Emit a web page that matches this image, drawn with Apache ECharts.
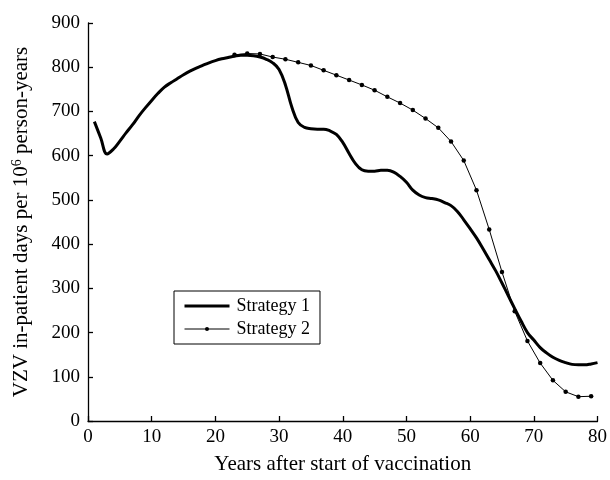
<!DOCTYPE html>
<html>
<head>
<meta charset="utf-8">
<script src="https://cdn.jsdelivr.net/npm/echarts@6/dist/echarts.min.js"></script>
<style>html,body{margin:0;padding:0;background:#fff;}#c{width:610px;height:480px;}</style>
</head>
<body>
<div id="c"></div>
<script>
const s1Years = [1,2,3,4,5,6,7,8,9,10,11,12,13,14,15,16,17,18,19,20,21,22,23,24,25,26,27,28,29,30,31,32,33,34,35,36,37,38,39,40,41,42,43,44,45,46,47,48,49,50,51,52,53,54,55,56,57,58,59,60,61,62,63,64,65,66,67,68,69,70,71,72,73,74,75,76,77,78,79,80];
const s1Values = [677,640,604,615,633,652,670,690,708,725,741,755,765,774,783,791,798,804,810,815,819,822,825,827,827,826,823,818,810,795,760,710,675,664,661,660,660,656,648,630,605,582,568,565,565,567,567,563,553,540,522,511,505,503,500,494,487,474,455,435,414,390,365,340,312,283,254,226,200,183,166,154,144,137,132,128,127,127,129,132];
const s2Years = [23,25,27,29,31,33,35,37,39,41,43,45,47,49,51,53,55,57,59,61,63,65,67,69,71,73,75,77,79];
const s2Values = [828,831,830,823,818,811,804,793,782,771,760,748,733,719,703,684,663,632,589,522,433,337,248,181,131,92,66,55,56];
const seriesNames = ['Strategy 1','Strategy 2'];
const xTitle = 'Years after start of vaccination';
const yTitle = 'VZV in-patient days per 10{sup|6} person-years';

const FONT = '"Liberation Serif", "Times New Roman", serif';
const chart = echarts.init(document.getElementById('c'), null, {renderer:'canvas'});
const zip = (a,b) => a.map((v,i)=>[v,b[i]]);
chart.setOption({
  animation:false,
  backgroundColor:'#fff',
  grid:{left:88,right:11,top:23,bottom:55,containLabel:false},
  legend:{
    left:174, top:291, orient:'vertical',
    data:[
      {name:seriesNames[0], itemStyle:{color:'rgba(0,0,0,0)',borderWidth:0}, lineStyle:{color:'#000',width:3}},
      {name:seriesNames[1], itemStyle:{color:'#000',borderWidth:0}, lineStyle:{color:'#000',width:1}}
    ],
    borderColor:'#000', borderWidth:1, borderRadius:0,
    padding:[6,10,6,9],
    itemWidth:45, itemHeight:5, itemGap:5,
    textStyle:{fontFamily:FONT,fontSize:18,color:'#000',padding:[0,0,0,2]}
  },
  xAxis:{
    type:'value', min:0, max:80, interval:10,
    name:xTitle, nameLocation:'middle', nameGap:33,
    nameTextStyle:{fontFamily:FONT,fontSize:21,color:'#000',verticalAlign:'top'},
    axisLine:{lineStyle:{color:'#000',width:1.3}},
    axisTick:{inside:true,length:5,lineStyle:{color:'#000',width:1.3}},
    axisLabel:{fontFamily:FONT,fontSize:19,color:'#000',margin:7},
    splitLine:{show:false}
  },
  yAxis:{
    type:'value', min:0, max:900, interval:100,
    name:yTitle, nameLocation:'middle', nameGap:55,
    nameTextStyle:{fontFamily:FONT,fontSize:21,color:'#000',
      rich:{sup:{fontFamily:FONT,fontSize:14,color:'#000',padding:[0,0,9,0]}}},
    axisLine:{lineStyle:{color:'#000',width:1.3}},
    axisTick:{inside:true,length:5,lineStyle:{color:'#000',width:1.3}},
    axisLabel:{fontFamily:FONT,fontSize:19,color:'#000',margin:8},
    splitLine:{show:false}
  },
  series:[
    {name:seriesNames[0],type:'line',data:zip(s1Years,s1Values),smooth:0.4,
     symbol:'none',showSymbol:false,lineStyle:{color:'#000',width:3},itemStyle:{color:'#000'},z:2},
    {name:seriesNames[1],type:'line',data:zip(s2Years,s2Values),smooth:false,
     symbol:'circle',symbolSize:4.5,showSymbol:true,lineStyle:{color:'#000',width:1},itemStyle:{color:'#000'},z:3}
  ]
});
</script>
</body>
</html>
